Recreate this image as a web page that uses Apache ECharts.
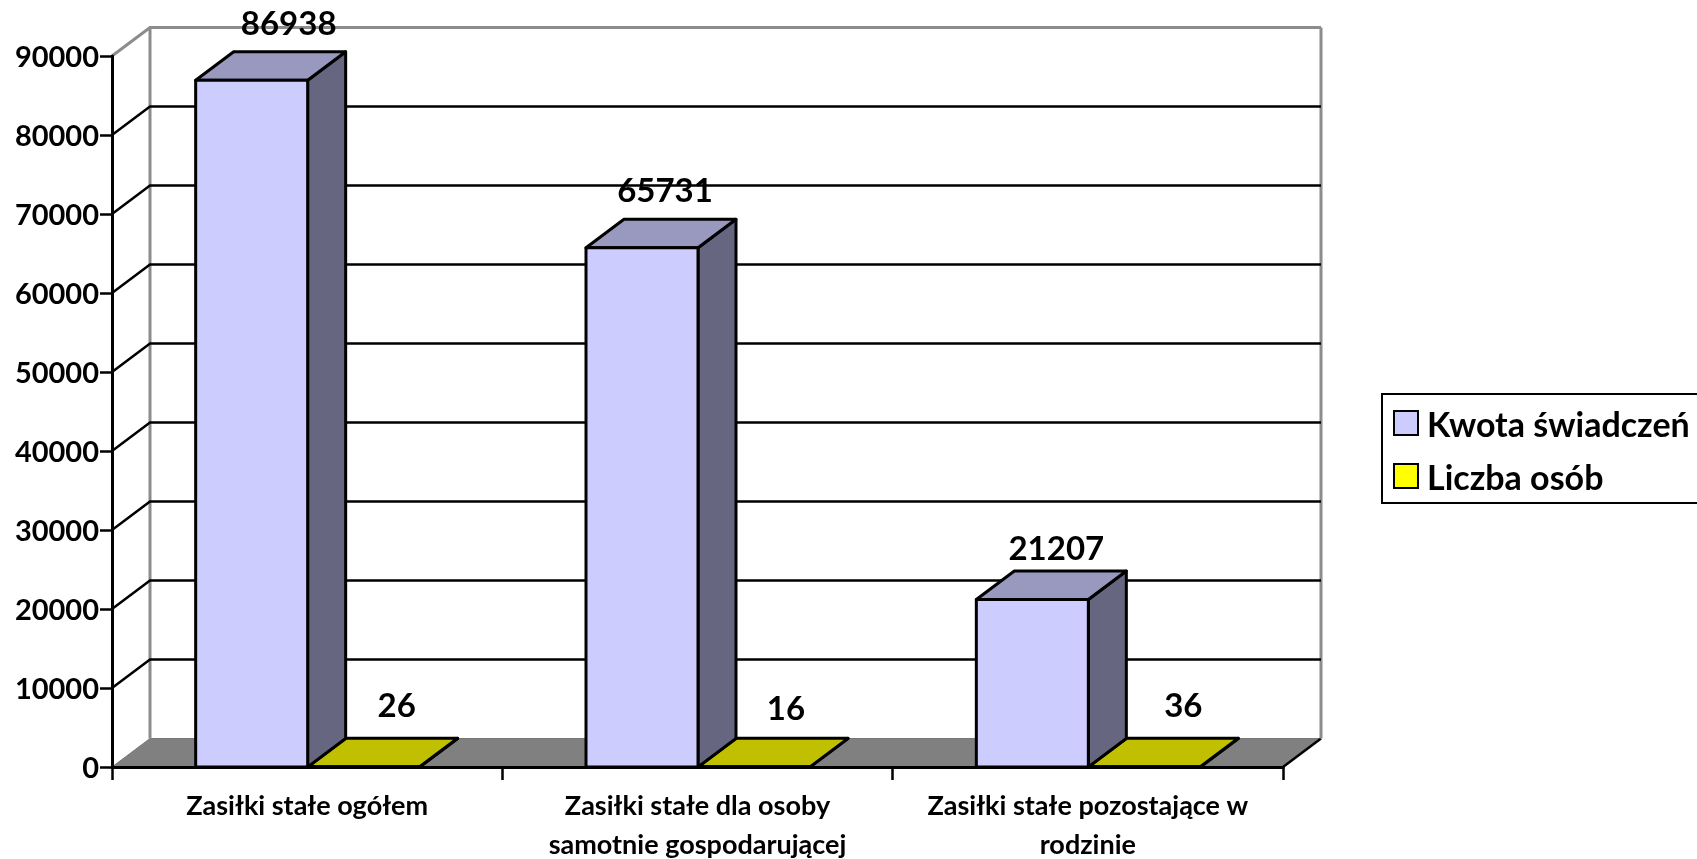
<!DOCTYPE html>
<html>
<head>
<meta charset="utf-8">
<style>html,body{margin:0;padding:0;background:#fff;overflow:hidden}#c{width:1697px;height:859px}</style>
<script src="https://cdn.jsdelivr.net/npm/echarts@6/dist/echarts.min.js"></script>
</head>
<body>
<div id="c"></div>
<script>
const categories = ['Zasiłki stałe ogółem', 'Zasiłki stałe dla osoby\nsamotnie gospodarującej', 'Zasiłki stałe pozostające w\nrodzinie'];
const kwota = [86938, 65731, 21207];
const liczba = [26, 16, 36];
const yTicks = [0, 10000, 20000, 30000, 40000, 50000, 60000, 70000, 80000, 90000];

const DX = 38, DY = 28.5, BAR = 112;
const FONT = 'Lato, "Open Sans", sans-serif';
const labelFont = 'bold 33px ' + FONT;
// how far each value label sits from its bar's centre, as [x, y]
const kwotaLabelShift = [[37, -56], [23, -56], [24, -50.5]];
const liczbaLabelShift = [[33, -60], [32, -58], [39, -60]];

function poly(pts, fill, lw, stroke){
  return {type:'polygon', shape:{points:pts}, style:{fill:fill, stroke:stroke||'#000', lineWidth:lw, lineJoin:'round'}};
}
function line(pts, color, lw){
  return {type:'polyline', shape:{points:pts}, style:{fill:null, stroke:color, lineWidth:lw}};
}

function barRenderer(side, front, top, right, shifts){
  return function(params, api){
    const i = api.value(0), v = api.value(1);
    const p = api.coord([i, v]), base = api.coord([i, 0]);
    const x0 = (side < 0 ? p[0] - BAR : p[0]) + 0.5, x1 = x0 + BAR;
    const yT = p[1], yB = base[1];
    const s = shifts[i];
    const children = [
      poly([[x1,yB],[x1+DX,yB-DY],[x1+DX,yT-DY],[x1,yT]], right, 3),
      poly([[x0,yT],[x0+DX,yT-DY],[x1+DX,yT-DY],[x1,yT]], top, 3),
      poly([[x0,yB],[x1,yB],[x1,yT],[x0,yT]], front, 3),
      {type:'text', style:{text:String(v), x:(x0+x1)/2+s[0], y:yT+s[1], textAlign:'center', textVerticalAlign:'middle', font:labelFont, fill:'#000'}}
    ];
    return {type:'group', children:children};
  };
}

function frameRenderer(params, api){
  const v = api.value(1);
  const cs = params.coordSys;
  const L = cs.x, R = cs.x + cs.width;
  const y = api.coord([0, v])[1];
  if (v === 0) {
    return {type:'group', children:[
      poly([[L,y],[L+DX,y-DY],[R+DX,y-DY],[R,y]], '#808080', 1, '#777'),
      line([[R,y],[R+DX,y-DY]], '#000', 2.5),
      line([[L+DX,y-DY],[L+DX,cs.y-DY]], '#8c8c8c', 3),
      line([[R+DX,y-DY],[R+DX,cs.y-DY]], '#8c8c8c', 3)
    ]};
  }
  const top = v === yTicks[yTicks.length-1];
  return line([[L,y],[L+DX,y-DY],[R+DX,y-DY]], top ? '#8c8c8c' : '#000', top ? 3 : 2.5);
}

const chart = echarts.init(document.getElementById('c'), null, {renderer:'canvas'});
chart.setOption({
  animation:false,
  backgroundColor:'#fff',
  grid:{left:112, top:56, width:1171, height:711, outerBoundsMode:'none', containLabel:false},
  xAxis:{
    type:'category', data:categories, z:5,
    axisLine:{lineStyle:{color:'#000', width:3}},
    axisTick:{show:true, length:13, alignWithLabel:false, lineStyle:{color:'#000', width:2.5}},
    axisLabel:{interval:0, color:'#000', fontFamily:FONT, fontWeight:'bold', fontSize:27, lineHeight:39, margin:20}
  },
  yAxis:{
    type:'value', min:0, max:90000, interval:10000, z:5,
    axisLine:{show:true, lineStyle:{color:'#000', width:3}},
    axisTick:{show:true, length:12, lineStyle:{color:'#000', width:2.5}},
    splitLine:{show:false},
    axisLabel:{color:'#000', margin:13,
      formatter:function(v){return '{v|' + v + '}';},
      rich:{v:{color:'#000', fontFamily:FONT, fontWeight:'bold', fontSize:29, lineHeight:29, padding:[4,0,0,0]}}}
  },
  legend:{
    left:1382, top:394, orient:'vertical', padding:[9,60,7,11],
    data:['Kwota świadczeń','Liczba osób'],
    icon:'rect', itemWidth:24, itemHeight:24, itemGap:13,
    borderColor:'#000', borderWidth:2, backgroundColor:'#fff',
    itemStyle:{borderColor:'#000', borderWidth:2},
    formatter:'{a|{name}}',
    textStyle:{color:'#000', rich:{a:{color:'#000', fontFamily:FONT, fontWeight:'bold', fontSize:34, lineHeight:35, padding:[6,0,0,4]}}}
  },
  series:[
    {type:'custom', z:1, silent:true, coordinateSystem:'cartesian2d', clip:false,
     renderItem:frameRenderer, encode:{x:0,y:1},
     data:yTicks.map(v=>[0,v])},
    {type:'custom', name:'Liczba osób', z:2, coordinateSystem:'cartesian2d', clip:false,
     itemStyle:{color:'#FFFF00', borderColor:'#000', borderWidth:2},
     renderItem:barRenderer(1,'#FFFF00','#C0C000','#808000',liczbaLabelShift), encode:{x:0,y:1},
     data:liczba.map((v,i)=>[i,v])},
    {type:'custom', name:'Kwota świadczeń', z:3, coordinateSystem:'cartesian2d', clip:false,
     itemStyle:{color:'#CCCCFF', borderColor:'#000', borderWidth:2},
     renderItem:barRenderer(-1,'#CCCCFF','#9999C0','#666680',kwotaLabelShift), encode:{x:0,y:1},
     data:kwota.map((v,i)=>[i,v])}
  ]
});
</script>
</body>
</html>
